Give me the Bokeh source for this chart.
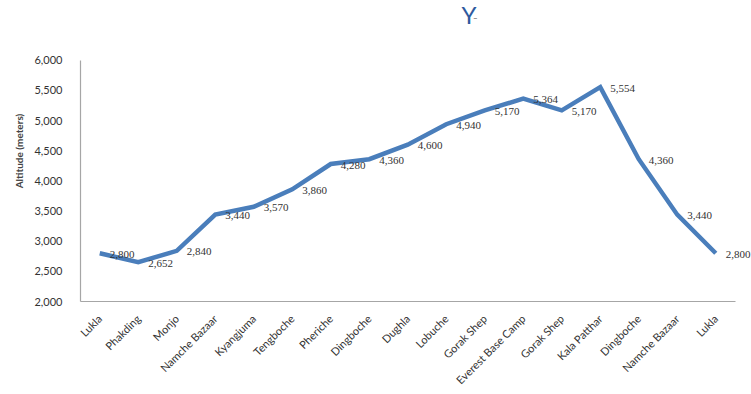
import math
from bokeh.plotting import figure
from bokeh.models import ColumnDataSource, NumeralTickFormatter, FixedTicker, Label, LabelSet, Range1d
from bokeh.embed import file_html
from bokeh.resources import INLINE

places = ["Lukla", "Phakding", "Monjo", "Namche Bazaar", "Kyangjuma", "Tengboche",
          "Pheriche", "Dingboche", "Dughla", "Lobuche", "Gorak Shep", "Everest Base Camp",
          "Gorak Shep", "Kala Patthar", "Dingboche", "Namche Bazaar", "Lukla"]
altitudes = [2800, 2652, 2840, 3440, 3570, 3860, 4280, 4360, 4600, 4940, 5170, 5364,
             5170, 5554, 4360, 3440, 2800]
y_ticks = [2000, 2500, 3000, 3500, 4000, 4500, 5000, 5500, 6000]
y_min, y_max = 2000, 6000

positions = list(range(len(places)))
labels = ["{:,}".format(v) for v in altitudes]
src = ColumnDataSource(dict(x=positions, y=altitudes, lab=labels))

# layout (pixels)
W, H = 751, 394
left, bottom = 80, 92
plot_top, plot_right = 60, 734.5   # where the drawn axes end
frame_h = H - bottom
frame_w = W - left
ax_h = frame_h - plot_top
ax_w = plot_right - left
n = len(places)
x_start = -0.5
x_end = x_start + n * frame_w / ax_w
y_top = y_min + (y_max - y_min) * frame_h / ax_h

p = figure(width=W, height=H, x_range=Range1d(x_start, x_end), y_range=Range1d(y_min, y_top),
           output_backend="svg", toolbar_location=None,
           min_border_left=left, min_border_right=0, min_border_top=0, min_border_bottom=bottom)
p.outline_line_color = None
p.xgrid.grid_line_color = None
p.ygrid.grid_line_color = None

p.line("x", "y", source=src, line_color="#4a7ebb", line_width=4.5, line_join="miter")

ls = LabelSet(x="x", y="y", text="lab", source=src, x_offset=10, y_offset=-1,
              text_font="Lato", text_font_size="11px", text_color="#333333",
              text_align="left", text_baseline="middle")
p.add_layout(ls)

p.yaxis.ticker = FixedTicker(ticks=y_ticks)
p.yaxis.formatter = NumeralTickFormatter(format="0,0")
p.yaxis.bounds = (y_min, y_max)
p.yaxis.axis_label = "Altitude (meters)"
p.yaxis.axis_label_text_font = "Lato"
p.yaxis.axis_label_text_font_style = "bold"
p.yaxis.axis_label_text_font_size = "10px"
p.yaxis.axis_label_standoff = 6

p.xaxis.ticker = FixedTicker(ticks=positions)
p.xaxis.major_label_overrides = {i: name for i, name in zip(positions, places)}
p.xaxis.bounds = (x_start, x_start + n)

for ax in (p.xaxis, p.yaxis):
    ax.axis_line_color = "#a6a6a6"
    ax.axis_line_width = 1.2
    ax.major_tick_line_color = None
    ax.minor_tick_line_color = None
    ax.major_label_text_font = "Lato"
    ax.major_label_text_font_size = "11px"
    ax.major_label_text_color = "#333333"

p.yaxis.major_label_standoff = 12
p.xaxis.major_label_orientation = math.pi / 4
p.xaxis.major_label_standoff = 9

title = Label(x=381, y=frame_h, x_units="screen", y_units="screen", text="Y",
              text_font="Lato", text_font_size="24px", text_color="#2e5a9e",
              text_baseline="top", text_align="left")
p.add_layout(title)
mark = Label(x=393, y=frame_h - 10, x_units="screen", y_units="screen", text="_",
             text_font="Lato", text_font_size="8px", text_color="#222222",
             text_baseline="top", text_align="left")
p.add_layout(mark)

open("out.html", "w").write(file_html(p, INLINE))
